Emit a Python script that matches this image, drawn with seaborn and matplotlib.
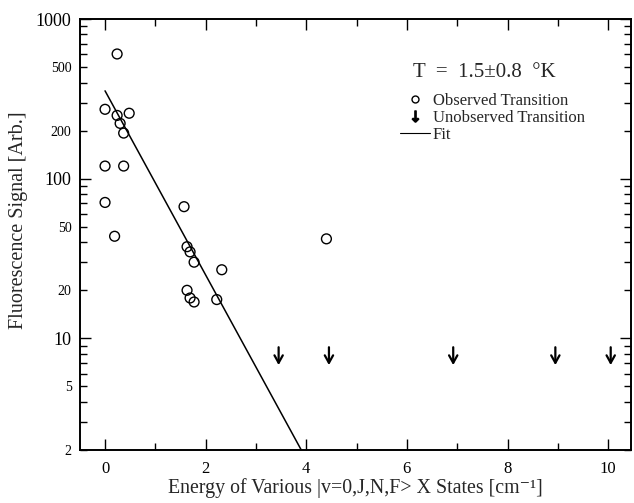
import numpy as np
import pandas as pd
import matplotlib
matplotlib.use("Agg")
import matplotlib.pyplot as plt
from matplotlib.lines import Line2D
from matplotlib.ticker import LogLocator, FixedLocator, FixedFormatter
import seaborn as sns

# Observed transitions (energy in cm^-1, fluorescence signal in arb. units)
obs_energy = [0.24, 0.00, 0.24, 0.48, 0.30, 0.37, 0.00, 0.37, 0.00, 0.19,
              1.57, 4.40, 1.63, 1.69, 1.77, 2.32, 1.63, 1.69, 1.77, 2.22]
obs_signal = [604, 272, 249, 257, 222, 193, 120, 120, 71, 43.6,
              66.8, 42, 37.5, 34.8, 30, 26.9, 20, 17.9, 16.9, 17.5]

# Unobserved transitions (upper limits)
unobs_energy = [3.45, 4.45, 6.92, 8.95, 10.05]
unobs_top = [8.8, 8.8, 8.8, 8.8, 8.8]
unobs_bottom = [6.8, 6.8, 6.8, 6.8, 6.8]

# Exponential (Boltzmann) fit
fit_energy = [0.0, 3.9]
fit_signal = [355, 2.0]

obs = pd.DataFrame({"Energy": obs_energy, "Signal": obs_signal})
fit = pd.DataFrame({"Energy": fit_energy, "Signal": fit_signal})

sns.set_theme(style="ticks")
plt.rcParams["font.family"] = ["Liberation Serif", "DejaVu Serif"]

fig = plt.figure(figsize=(6.34, 5.03), dpi=100)
ax = fig.add_axes([0.126, 0.1054, 0.869, 0.8568])

sns.lineplot(data=fit, x="Energy", y="Signal", ax=ax, color="black", lw=1.1)
sns.scatterplot(data=obs, x="Energy", y="Signal", ax=ax, marker="o", s=50,
                facecolor="none", edgecolor="black", linewidth=1.0)

for x, yt, yb in zip(unobs_energy, unobs_top, unobs_bottom):
    ax.annotate("", xy=(x, yb), xytext=(x, yt),
                arrowprops=dict(arrowstyle="->,head_length=0.45,head_width=0.25",
                                color="black", lw=1.6, shrinkA=0, shrinkB=0))

ax.set_yscale("log")
ax.set_xlim(-0.5, 10.45)
ax.set_ylim(2, 1000)

# ticks: decades get long ticks and bigger labels, 2 and 5 get small labels
ax.set_xticks([0, 2, 4, 6, 8, 10])
ax.set_xticks([1, 3, 5, 7, 9], minor=True)
ax.yaxis.set_major_locator(FixedLocator([10, 100, 1000]))
ax.yaxis.set_minor_locator(LogLocator(base=10, subs=np.arange(2, 10), numticks=20))
minor_labels = {2: "2", 5: "5", 20: "20", 50: "50", 200: "200", 500: "500"}
ax.yaxis.set_major_formatter(FixedFormatter(["10", "100", "1000"]))
ax.yaxis.set_minor_formatter(plt.FuncFormatter(
    lambda v, p: minor_labels.get(int(round(v)), "")))

ax.tick_params(which="both", direction="in", top=True, right=True, width=1.0,
               colors="black")
ax.tick_params(which="major", length=8)
ax.tick_params(which="minor", length=5)
ax.tick_params(axis="x", which="major", labelsize=12, pad=8)
ax.tick_params(axis="y", which="minor", labelsize=10, pad=6)
ax.tick_params(axis="y", which="major", labelsize=13, pad=6)

for s in ax.spines.values():
    s.set_linewidth(1.4)
    s.set_color("black")

ax.set_xlabel("Energy of Various |v=0,J,N,F> X States [cm\u207b\u00b9]", fontsize=14.3)
ax.xaxis.set_label_coords(0.5, -0.066)
ax.set_ylabel("Fluorescence Signal [Arb.]", fontsize=14.5)
ax.yaxis.set_label_coords(-0.094, 0.534)

ax.text(0.605, 0.877, "T  =  1.5±0.8  °K", transform=ax.transAxes, fontsize=15,
        ha="left", va="center")

handles = [
    Line2D([], [], marker="o", ls="none", mfc="none", mec="black", ms=5, mew=1.0),
    Line2D([], [], marker=r"$\downarrow$", ls="none", color="black", ms=8),
    Line2D([], [], color="black", lw=0.8),
]
labels = ["Observed Transition", "Unobserved Transition", "Fit"]
ax.legend(handles, labels, loc="upper left", bbox_to_anchor=(0.566, 0.847),
          frameon=False, fontsize=12, handlelength=1.8, handletextpad=0.15,
          labelspacing=0.05, borderpad=0)

fig.savefig("out.png", dpi=100)
